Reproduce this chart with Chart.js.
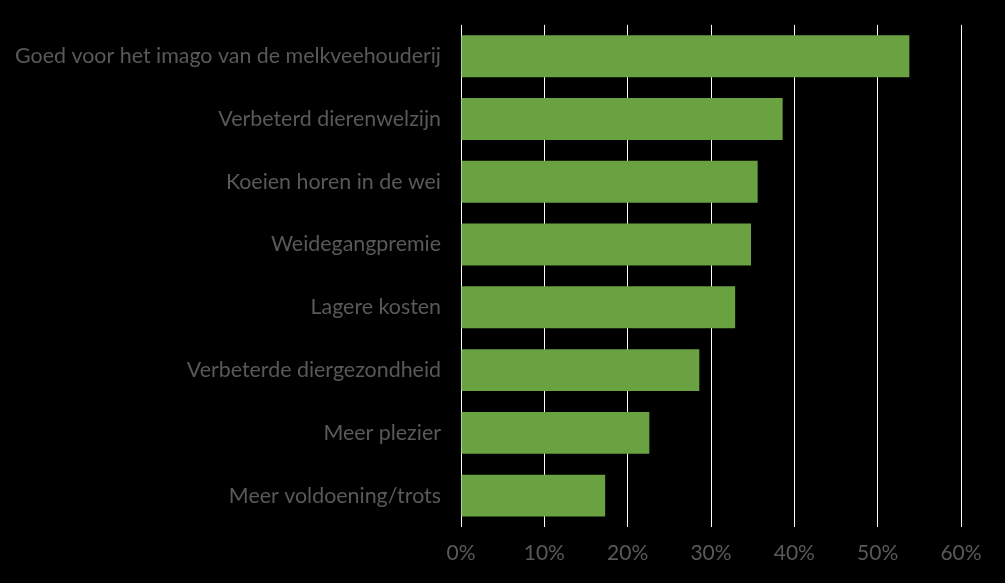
<!DOCTYPE html>
<html>
<head>
<meta charset="utf-8">
<script src="https://cdn.jsdelivr.net/npm/chart.js@4"></script>
<style>
  html, body { margin: 0; padding: 0; background: #000; }
  #wrap { width: 1005px; height: 583px; }
</style>
</head>
<body>
<div id="wrap"><canvas id="grafiek"></canvas></div>
<script>
// categorieën (van boven naar beneden)
const redenen = [
  "Goed voor het imago van de melkveehouderij",
  "Verbeterd dierenwelzijn",
  "Koeien horen in de wei",
  "Weidegangpremie",
  "Lagere kosten",
  "Verbeterde diergezondheid",
  "Meer plezier",
  "Meer voldoening/trots"
];

// aandeel in procenten
const aandeel = [53.8, 38.6, 35.6, 34.8, 32.9, 28.6, 22.6, 17.3];

// as-labels
const asStappen = [0, 10, 20, 30, 40, 50, 60];

const grijs = "#595959";
const groen = "#6aa141";

new Chart(document.getElementById("grafiek"), {
  type: "bar",
  data: {
    labels: redenen,
    datasets: [{
      data: aandeel,
      backgroundColor: groen,
      borderWidth: 0,
      barPercentage: 1,
      categoryPercentage: 0.667
    }]
  },
  options: {
    indexAxis: "y",
    responsive: true,
    maintainAspectRatio: false,
    animation: false,
    layout: { padding: { top: 14, right: 44, left: 0, bottom: 0 } },
    plugins: {
      legend: { display: false },
      tooltip: { enabled: false }
    },
    scales: {
      x: {
        min: asStappen[0],
        max: asStappen[asStappen.length - 1],
        afterBuildTicks: s => { s.ticks = asStappen.map(v => ({ value: v })); },
        afterFit: s => { s.height = 56; },
        border: { display: false },
        grid: { color: "#ffffff", lineWidth: 1, drawTicks: false },
        ticks: {
          color: grijs,
          padding: 14,
          font: { family: "Lato", size: 21 },
          callback: v => v + "%"
        }
      },
      y: {
        afterFit: s => { s.width = 461; },
        border: { display: false },
        grid: { display: false },
        ticks: {
          color: grijs,
          padding: 12,
          font: { family: "Lato", size: 21.4 }
        }
      }
    }
  }
});
</script>
</body>
</html>
